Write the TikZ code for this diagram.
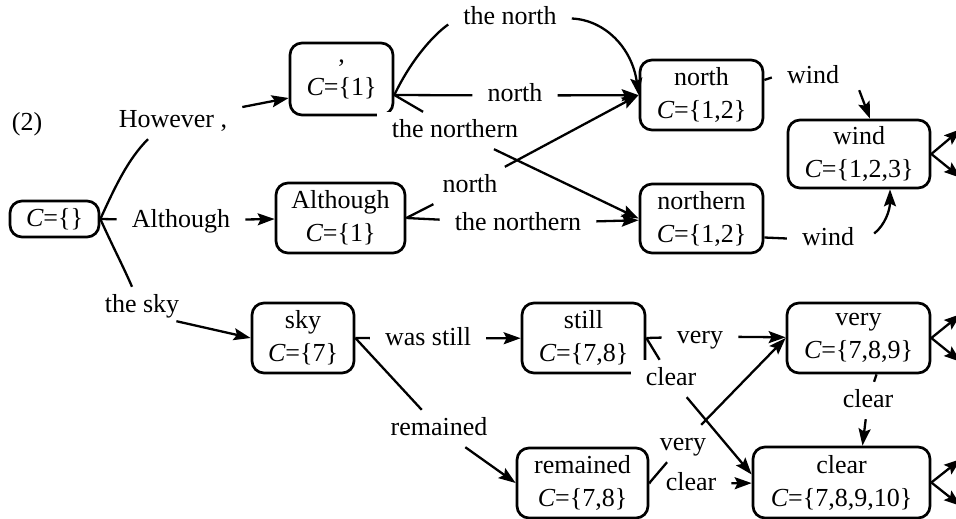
\documentclass[tikz,border=0pt]{standalone}
\usepackage{fontspec}
\setmainfont{Liberation Serif}
\usetikzlibrary{arrows.meta,calc}
\begin{document}
\begin{tikzpicture}[x=1pt,y=-1pt,
  box/.style={draw,line width=2.7pt,rounded corners=12pt,align=center,inner sep=0pt,font=\fontsize{26}{33}\selectfont},
  lbl/.style={inner xsep=15pt,inner ysep=7pt,text height=18pt,text depth=5pt,anchor=base,font=\fontsize{26}{30}\selectfont},
  lblw/.style={lbl,fill=white},
  edge/.style={line width=2.3pt},
  arr/.style={edge,-{Stealth[length=17pt,width=12pt,inset=3pt]}},
]
\useasboundingbox (0,0) rectangle (956,519);
\clip (0,0) rectangle (956,519);

% boxes
\node[box,minimum width=89pt,minimum height=36pt] (root) at (54.5,219) {{\itshape C}=\{\}};
\node[box,minimum width=103pt,minimum height=72pt] (comma) at (341.5,79) {,\\{\itshape C}=\{1\}};
\node[box,minimum width=129pt,minimum height=70pt] (although) at (340.5,218) {Although\\{\itshape C}=\{1\}};
\node[box,minimum width=123pt,minimum height=70pt] (north) at (701.5,95) {north\\{\itshape C}=\{1,2\}};
\node[box,minimum width=123pt,minimum height=69pt] (northern) at (701.5,218.5) {northern\\{\itshape C}=\{1,2\}};
\node[box,minimum width=142pt,minimum height=68pt] (wind) at (859,154) {wind\\{\itshape C}=\{1,2,3\}};
\node[box,minimum width=102pt,minimum height=70pt] (sky) at (303,338) {sky\\{\itshape C}=\{7\}};
\node[box,minimum width=123pt,minimum height=70pt] (still) at (583.5,338) {still\\{\itshape C}=\{7,8\}};
\node[box,minimum width=143pt,minimum height=70pt] (very) at (858.5,338) {very\\{\itshape C}=\{7,8,9\}};
\node[box,minimum width=131pt,minimum height=70pt] (remained) at (582.5,483) {remained\\{\itshape C}=\{7,8\}};
\node[box,minimum width=177pt,minimum height=71pt] (clear) at (841.5,482.5) {clear\\{\itshape C}=\{7,8,9,10\}};

% labels
\node[lbl] (num) at (27,130) {(2)};
\node[lbl] (lhow) at (173,127) {However ,};
\node[lbl] (lalth) at (181,227) {Although};
\node[lbl] (lsky) at (142,312) {the sky};
\node[lbl] (lthenorth) at (510,25) {the north};
\node[lbl] (lnorthA) at (515,102) {north};
\node[lblw] (lthernA) at (455,137) {the northern};
\node[lbl] (lnorthB) at (470,192) {north};
\node[lbl] (lthernB) at (518,230) {the northern};
\node[lbl] (lwindA) at (813,84) {wind};
\node[lbl] (lwindB) at (828,245) {wind};
\node[lbl] (lwas) at (428,345) {was still};
\node[lbl] (lrem) at (439,435) {remained};
\node[lbl] (lveryA) at (700,343) {very};
\node[lblw] (lclearA) at (671,385) {clear};
\node[lbl] (lclearB) at (868,407) {clear};
\node[lbl] (lveryB) at (683,450) {very};
\node[lbl] (lclearC) at (691,490) {clear};

% free ends at the right edge
\coordinate (w1) at (961,129);
\coordinate (w2) at (961,178);
\coordinate (v1) at (961,314);
\coordinate (v2) at (961,362);
\coordinate (c1) at (961,459);
\coordinate (c2) at (961,506);

% root edges
\draw[edge] (root.east) .. controls (115,187) and (128,159) .. ($(lhow.south)+(-25,0)$);
\draw[arr] (lhow) -- ($(comma.west)+(0,19)$);
\draw[edge] (root.east) -- (lalth);
\draw[arr] (lalth) -- (although);
\draw[edge] (root.east) .. controls (112,245) and (124,268) .. ($(lsky.north)+(-10,0)$);
\draw[arr] ($(lsky.south east)+(-18,-3)$) -- (sky.west);

% comma edges
\draw[edge] ($(comma.east)+(0,16)$) .. controls (410,62) and (432,36) .. ($(lthenorth.west)+(0,6)$);
\draw[arr] (lthenorth.east) .. controls (605,20) and (632,48) .. (north.west);
\draw[edge] ($(comma.east)+(0,16)$) -- (lnorthA);
\draw[arr] (lnorthA) -- (north);
\draw[edge] ($(comma.east)+(0,16)$) -- (lthernA);
\draw[arr] (lthernA) -- (northern.west);

% although edges
\draw[edge] (although.east) -- (lnorthB);
\draw[arr] (lnorthB) -- (north.west);
\draw[edge] (although.east) -- (lthernB);
\draw[arr] (lthernB) -- (northern);

% wind
\draw[edge] ($(north.east)+(0,-15)$) -- (lwindA.west);
\draw[arr] ($(lwindA.south east)+(5,-6)$) -- ($(wind.north)+(11,0)$);
\draw[edge] ($(northern.east)+(0,19)$) -- (lwindB.west);
\draw[arr] ($(lwindB.east)+(5,-5)$) .. controls (885,225) and (890,210) .. ($(wind.south)+(31,0)$);
\draw[arr] (wind.east) -- (w1);
\draw[arr] (wind.east) -- (w2);

% sky edges
\draw[edge] (sky.east) -- (lwas);
\draw[arr] (lwas) -- (still);
\draw[edge] (sky.east) -- (lrem);
\draw[arr] (lrem) -- (remained.west);

% still edges
\draw[edge] (still.east) -- (lveryA);
\draw[arr] (lveryA) -- (very);
\draw[edge] (still.east) -- (lclearA);
\draw[arr] (lclearA) -- ($(clear.west)+(0,-8)$);

% very edges
\draw[edge] ($(very.south)+(18,0)$) -- (lclearB);
\draw[arr] (lclearB) -- ($(clear.north)+(21,0)$);
\draw[arr] (very.east) -- (v1);
\draw[arr] (very.east) -- (v2);

% remained edges
\draw[edge] (remained.east) -- (lveryB);
\draw[arr] (lveryB) -- (very.west);
\draw[edge] (remained.east) -- (lclearC);
\draw[arr] (lclearC) -- (clear);

% clear
\draw[arr] (clear.east) -- (c1);
\draw[arr] (clear.east) -- (c2);
\end{tikzpicture}
\end{document}
